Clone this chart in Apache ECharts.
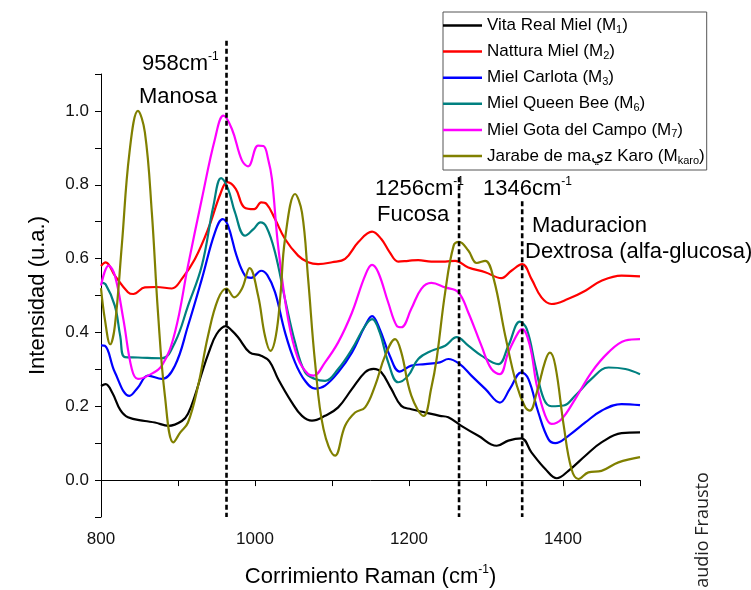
<!DOCTYPE html>
<html>
<head>
<meta charset="utf-8">
<script src="https://cdn.jsdelivr.net/npm/echarts@6/dist/echarts.min.js"></script>
<style>
  html, body { margin: 0; padding: 0; background: #fff; }
  #chart { width: 751px; height: 590px; }
</style>
</head>
<body>
<div id="chart"></div>
<script>
// nombres de las muestras y sus subindices
const seriesLabels = ['Vita Real Miel', 'Nattura Miel', 'Miel Carlota', 'Miel Queen Bee', 'Miel Gota del Campo', 'Jarabe de maيz Karo']
const subscripts = ['1', '2', '3', '6', '7', 'karo']
const seriesNames = seriesLabels.map((s, i) => s + ' (M' + subscripts[i] + ')')
const colors = ['#000000', '#ff0000', '#0000ff', '#008080', '#ff00ff', '#808000']

// [corrimiento Raman, intensidad]
const vitaReal = [[800,.255],[806,.26],[815,.235],[825,.19],[835,.17],[857,.16],[870,.156],[888,.147],[905,.16],[913,.18],[922,.229],[931,.29],[940,.346],[950,.395],[962,.417],[970,.405],[978,.387],[993,.346],[1008,.337],[1019,.321],[1030,.274],[1048,.21],[1061,.174],[1074,.161],[1091,.174],[1108,.197],[1126,.247],[1143,.292],[1154,.301],[1164,.292],[1177,.247],[1190,.201],[1203,.192],[1221,.183],[1240,.174],[1251,.17],[1268,.147],[1290,.12],[1314,.093],[1329,.107],[1346,.113],[1359,.075],[1377,.03],[1392,.005],[1407,.025],[1429,.066],[1450,.102],[1476,.127],[1500,.129]]
const nattura = [[800,.58],[806,.59],[818,.554],[835,.509],[842,.504],[857,.522],[872,.523],[892,.519],[905,.545],[922,.599],[940,.685],[955,.775],[964,.807],[975,.789],[986,.739],[999,.734],[1008,.752],[1015,.748],[1026,.707],[1039,.653],[1056,.608],[1069,.59],[1082,.585],[1100,.59],[1117,.599],[1134,.644],[1152,.673],[1164,.653],[1175,.617],[1186,.592],[1199,.594],[1212,.596],[1229,.592],[1247,.592],[1260,.594],[1277,.576],[1299,.563],[1320,.547],[1333,.567],[1347,.585],[1359,.545],[1372,.495],[1385,.477],[1407,.491],[1429,.513],[1450,.54],[1476,.554],[1500,.552]]
const carlota = [[800,.365],[805,.364],[818,.292],[837,.228],[848,.251],[861,.283],[879,.274],[896,.31],[913,.418],[931,.545],[948,.671],[958,.707],[965,.689],[976,.608],[987,.554],[995,.548],[1008,.567],[1016,.555],[1026,.509],[1039,.4],[1052,.319],[1065,.269],[1078,.248],[1091,.256],[1108,.292],[1126,.346],[1143,.418],[1152,.444],[1162,.409],[1175,.337],[1188,.294],[1203,.31],[1221,.314],[1240,.319],[1251,.328],[1266,.314],[1281,.283],[1299,.247],[1318,.21],[1331,.247],[1346,.292],[1355,.274],[1368,.183],[1381,.111],[1390,.1],[1407,.12],[1429,.156],[1450,.188],[1476,.206],[1500,.203]]
const queenBee = [[800,.535],[806,.53],[818,.472],[825,.39],[831,.333],[848,.332],[879,.33],[896,.373],[913,.472],[931,.581],[946,.743],[956,.818],[965,.789],[974,.725],[987,.662],[998,.68],[1007,.698],[1015,.685],[1026,.617],[1039,.49],[1052,.373],[1065,.292],[1078,.274],[1091,.269],[1108,.301],[1126,.355],[1143,.418],[1152,.436],[1162,.4],[1173,.319],[1186,.265],[1199,.283],[1212,.328],[1229,.35],[1247,.364],[1262,.387],[1277,.364],[1294,.337],[1316,.314],[1329,.364],[1344,.429],[1353,.409],[1364,.31],[1375,.22],[1385,.2],[1401,.202],[1416,.229],[1437,.274],[1459,.305],[1481,.301],[1500,.287]]
const gotaCampo = [[800,.527],[810,.581],[818,.554],[829,.436],[840,.301],[848,.274],[861,.283],[879,.31],[896,.4],[913,.581],[931,.762],[948,.924],[959,.987],[970,.951],[983,.866],[991,.85],[1004,.906],[1011,.905],[1017,.87],[1022,.816],[1030,.635],[1043,.436],[1056,.328],[1069,.287],[1076,.283],[1091,.319],[1108,.373],[1126,.454],[1143,.554],[1152,.583],[1160,.563],[1173,.481],[1184,.418],[1190,.414],[1203,.464],[1216,.518],[1229,.534],[1247,.522],[1264,.509],[1277,.454],[1294,.364],[1307,.301],[1318,.287],[1329,.346],[1342,.4],[1347,.409],[1357,.364],[1366,.256],[1377,.174],[1385,.152],[1398,.165],[1416,.22],[1437,.292],[1459,.346],[1481,.378],[1500,.382]]
const karo = [[800,.52],[805,.436],[812,.368],[818,.418],[827,.635],[837,.888],[848,1.0],[857,.942],[866,.725],[874,.454],[883,.228],[894,.102],[903,.129],[913,.156],[926,.255],[939,.391],[952,.49],[963,.519],[973,.495],[983,.518],[993,.574],[1004,.5],[1013,.39],[1020,.35],[1027,.39],[1033,.5],[1039,.653],[1052,.775],[1061,.725],[1069,.545],[1078,.319],[1089,.138],[1104,.066],[1117,.147],[1130,.183],[1143,.197],[1156,.256],[1169,.337],[1182,.382],[1190,.346],[1203,.229],[1219,.174],[1229,.25],[1236,.33],[1247,.509],[1258,.635],[1265,.645],[1277,.622],[1288,.588],[1299,.594],[1310,.545],[1325,.391],[1340,.256],[1351,.197],[1357,.188],[1366,.238],[1377,.323],[1383,.345],[1390,.31],[1401,.147],[1411,.03],[1420,.003],[1433,.021],[1450,.025],[1472,.048],[1500,.062]]
const allData = [vitaReal, nattura, carlota, queenBee, gotaCampo, karo]

// lineas punteadas: posicion y extremo superior
const markerX = [963, 1265, 1347]
const markerTop = [1.19, 0.82, 0.755]

const xLabels = [800, 1000, 1200, 1400]
const yLabels = ['0.0', '0.2', '0.4', '0.6', '0.8', '1.0']

const font = 'Liberation Sans'
const supRich = {
  t: { fontSize: 22, fontFamily: font, color: '#000', lineHeight: 26 },
  sup: { fontSize: 12, fontFamily: font, color: '#000', verticalAlign: 'top', lineHeight: 12 }
}

function note(text, x, y) {
  return {
    type: 'text', x: x, y: y, z: 10,
    style: { text: text, rich: supRich, fontSize: 22, fontFamily: font, fill: '#000', align: 'left', verticalAlign: 'middle' }
  }
}

var myChart = echarts.init(document.getElementById('chart'))
myChart.setOption({
  animation: false,
  backgroundColor: '#fff',
  textStyle: { fontFamily: font },
  grid: { left: 101, top: 74, right: 111, bottom: 73, containLabel: false, outerBoundsMode: 'none' },
  legend: {
    data: seriesNames,
    orient: 'vertical',
    left: 443,
    top: 12,
    padding: [5, 2, 4, 0],
    icon: 'rect',
    itemWidth: 39,
    itemHeight: 2.5,
    itemGap: 7.6,
    borderColor: '#555',
    borderWidth: 1,
    backgroundColor: '#fff',
    selectedMode: false,
    formatter: name => {
      const i = seriesNames.indexOf(name)
      return '{t|' + seriesLabels[i] + ' (M}{s|' + subscripts[i] + '}{t|)}'
    },
    textStyle: {
      rich: {
        t: { fontSize: 17, fontFamily: font, color: '#000', lineHeight: 20 },
        s: { fontSize: 11, fontFamily: font, color: '#000', lineHeight: 11, verticalAlign: 'bottom' }
      }
    }
  },
  xAxis: {
    type: 'value',
    min: 800,
    max: 1500,
    interval: 100,
    name: '{t|Corrimiento Raman (cm}{sup|-1}{t|)}',
    nameLocation: 'middle',
    nameGap: 47,
    nameTextStyle: { rich: supRich },
    axisLine: { lineStyle: { color: '#000', width: 1 } },
    axisTick: { length: 6, lineStyle: { color: '#000' } },
    axisLabel: {
      margin: 14, fontSize: 17, color: '#111',
      formatter: v => xLabels.includes(Math.round(v)) ? String(Math.round(v)) : ''
    },
    splitLine: { show: false }
  },
  yAxis: {
    type: 'value',
    min: -0.1,
    max: 1.1,
    interval: 0.1,
    name: 'Intensidad (u.a.)',
    nameLocation: 'middle',
    nameGap: 52,
    nameTextStyle: { fontSize: 22, color: '#000' },
    axisLine: { show: true, lineStyle: { color: '#000', width: 1 } },
    axisTick: { show: true, length: 6, lineStyle: { color: '#000' } },
    axisLabel: {
      margin: 12, fontSize: 17, color: '#111',
      formatter: v => yLabels.includes(v.toFixed(1)) ? v.toFixed(1) : ''
    },
    splitLine: { show: false }
  },
  series: allData.map((d, i) => ({
    name: seriesNames[i],
    type: 'line',
    data: d,
    smooth: 0.4,
    symbol: 'none',
    lineStyle: { color: colors[i], width: 2.2 },
    itemStyle: { color: colors[i] },
    z: 2 + i * 0.01
  })).concat([{
    type: 'custom',
    name: 'marcadores',
    silent: true,
    clip: false,
    z: 5,
    data: markerX.map((x, i) => [x, markerTop[i]]),
    renderItem: (params, api) => {
      const top = api.coord([api.value(0), api.value(1)])
      const bottom = api.coord([api.value(0), -0.1])
      return {
        type: 'line',
        shape: { x1: top[0], y1: top[1], x2: bottom[0], y2: bottom[1] },
        style: { stroke: '#000', lineWidth: 2.6, lineDash: [5, 3] }
      }
    }
  }]),
  graphic: [
    note('{t|958cm}{sup|-1}', 142, 64),
    note('{t|Manosa}', 139, 97),
    note('{t|1256cm}{sup|-1}', 375, 189),
    note('{t|Fucosa}', 377, 215),
    note('{t|1346cm}{sup|-1}', 483, 189),
    note('{t|Maduracion}', 532, 226),
    note('{t|Dextrosa (alfa-glucosa)}', 525, 252),
    {
      type: 'text', x: 703, y: 530, rotation: Math.PI / 2,
      style: { text: 'audio Frausto', fontSize: 18, fontFamily: 'Open Sans', fill: '#222', align: 'center', verticalAlign: 'middle' }
    }
  ]
})
</script>
</body>
</html>
